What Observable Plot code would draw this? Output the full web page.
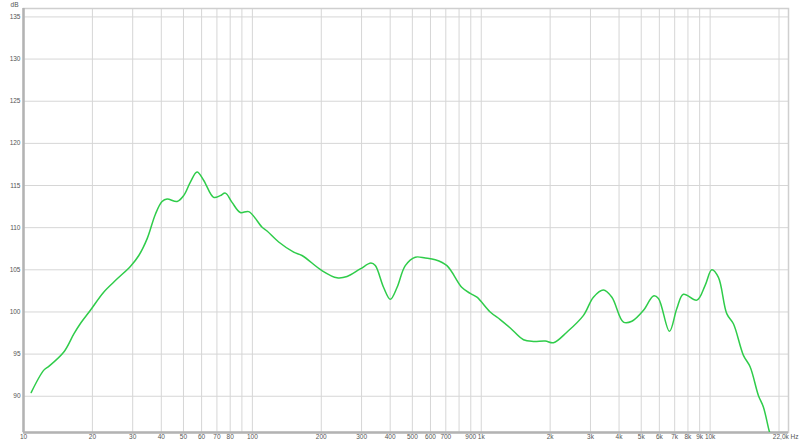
<!DOCTYPE html>
<html><head><meta charset="utf-8">
<script src="https://cdn.jsdelivr.net/npm/d3@7"></script>
<script src="https://cdn.jsdelivr.net/npm/@observablehq/plot@0.6"></script>
<style>html,body{margin:0;padding:0;background:#fff} svg{display:block}</style>
</head><body><div id="chart"></div>
<script>
const freq = [10.8,12.27,12.9,15.0,16.6,17.7,19.6,22.4,25.6,29.3,
  31.9,34.7,37.7,40.3,42.4,46.9,50.1,53.6,57.3,61.3,
  67.7,72.4,76.2,81.5,88.6,96.4,110.3,115.9,130.3,151.5,
  164.7,201.5,234.3,259.2,296.1,329.7,344.4,374.5,400.6,428.5,
  465.7,515,569.5,629.6,708,823.6,895.6,957.6,1094,1210,
  1339,1530,1690,1904,2069,2366,2797,3091,3418,3722,
  4182,4550,5115,5654,5945,6642,7154,7643,8750,9510,
  10170,10870,11820,12640,13980,14950,16250,17100,18170,18700];
const spl = [90.44,93.1,93.55,95.25,97.4,98.6,100.2,102.35,103.9,105.4,
  106.7,108.7,111.6,113.1,113.4,113.1,113.8,115.4,116.6,115.6,
  113.6,113.8,114.1,113.0,111.8,111.9,110.05,109.6,108.3,107.1,
  106.7,104.9,104.05,104.2,105.1,105.8,105.5,102.9,101.5,102.9,
  105.5,106.5,106.4,106.2,105.5,102.9,102.2,101.75,100.0,99.1,
  98.1,96.7,96.5,96.55,96.35,97.6,99.6,101.75,102.6,101.75,
  98.8,98.9,100.2,101.9,101.6,97.7,100.4,102.1,101.4,103.15,
  105.0,104.1,99.8,98.6,94.85,93.5,90.1,88.7,85.77,84.8];
const xDomain = [10, 22000];
const yDomain = [85.7, 136];
const xTickValues = [10,20,30,40,50,60,70,80,100,200,300,400,500,600,700,900,1000,2000,3000,4000,5000,6000,7000,8000,9000,10000];
const xTickLabels = ["10","20","30","40","50","60","70","80","100","200","300","400","500","600","700","900","1k","2k","3k","4k","5k","6k","7k","8k","9k","10k"];
const xGridValues = [10,20,30,40,50,60,70,80,90,100,200,300,400,500,600,700,800,900,1000,2000,3000,4000,5000,6000,7000,8000,9000,10000,20000];
const yTickValues = [90,95,100,105,110,115,120,125,130,135];
const endLabel = "22,0k Hz";
const unitLabel = "dB";

const data = freq.map((f, i) => ({f, db: spl[i]}));
const xLabels = xTickValues.map((v, i) => ({x: v, label: xTickLabels[i]}));

const chart = Plot.plot({
  width: 800, height: 443,
  marginLeft: 23, marginRight: 12, marginTop: 8, marginBottom: 11,
  x: {type: "log", domain: xDomain, axis: null},
  y: {domain: yDomain, axis: null},
  style: {fontFamily: "'Liberation Sans', Arial, sans-serif", fontSize: "6.5px", color: "#555", background: "#fff"},
  marks: [
    Plot.gridX(xGridValues, {stroke: "#d6d6d6", strokeOpacity: 1}),
    Plot.gridY(yTickValues, {stroke: "#d6d6d6", strokeOpacity: 1}),
    Plot.frame({stroke: "#cfcfcf", strokeWidth: 1.5}),
    Plot.ruleX([xDomain[0]], {stroke: "#b3b3b3", strokeWidth: 2.5}),
    Plot.ruleY([yDomain[0]], {stroke: "#b3b3b3", strokeWidth: 2.5}),
    Plot.line(data, {x: "f", y: "db", stroke: "#2fcc4a", strokeWidth: 1.5, curve: "catmull-rom", clip: true}),
    Plot.text(xLabels, {x: "x", text: "label", frameAnchor: "bottom", textAnchor: "middle", lineAnchor: "top", dy: 2, fill: "#555"}),
    Plot.text(yTickValues, {y: d => d, text: d => String(d), frameAnchor: "left", textAnchor: "end", dx: -3, fill: "#555"}),
    Plot.text([{x: xDomain[1], label: endLabel}], {x: "x", text: "label", frameAnchor: "bottom", textAnchor: "end", lineAnchor: "top", dx: 10, dy: 2, fill: "#555"}),
    Plot.text([unitLabel], {text: d => d, frameAnchor: "top-left", textAnchor: "middle", dx: -9, dy: -6, fill: "#555"})
  ]
});
document.getElementById("chart").appendChild(chart);
</script>
</body></html>
